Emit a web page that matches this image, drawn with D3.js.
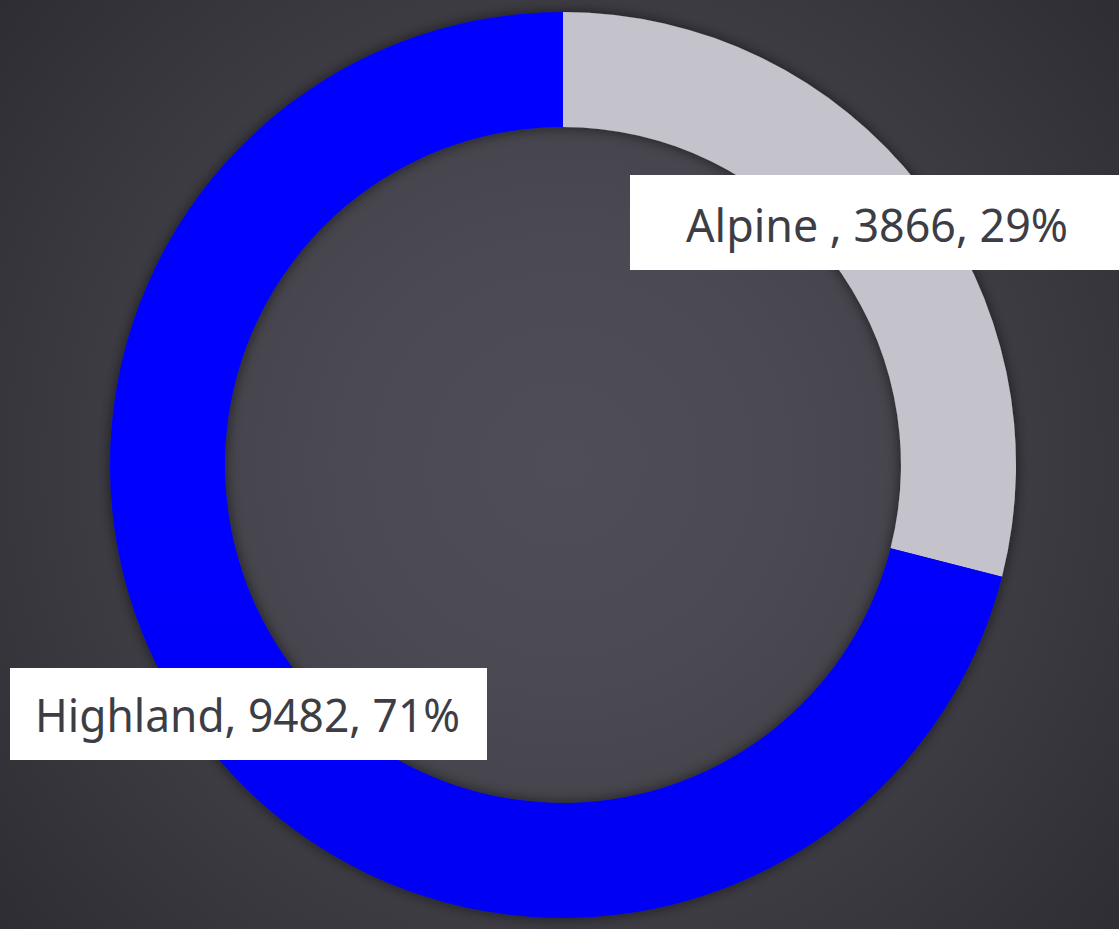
<!DOCTYPE html>
<html><head><meta charset="utf-8">
<script src="https://cdn.jsdelivr.net/npm/d3@7"></script>
<style>html,body{margin:0;padding:0;overflow:hidden;background:#2e2d34}</style>
</head><body>
<script>
const categories = ["Alpine ", "Highland"];
const values = [3866, 9482];
const percents = ["29%", "71%"];

const W = 1119, H = 929;
const cx = 563, cy = 465, rOuter = 453, rInner = 338;

const svg = d3.select("body").append("svg").attr("width", W).attr("height", H);
const defs = svg.append("defs");
const bg = defs.append("radialGradient").attr("id","bg").attr("gradientUnits","userSpaceOnUse")
  .attr("cx",cx).attr("cy",cy).attr("r",730);
[[0,"#4f4e57"],[0.3,"#4b4a53"],[0.47,"#46454d"],[0.65,"#3c3b42"],[1,"#2e2d34"]].forEach(s=>
  bg.append("stop").attr("offset",s[0]).attr("stop-color",s[1]));
const blueG = defs.append("linearGradient").attr("id","blueG")
  .attr("gradientUnits","userSpaceOnUse").attr("x1",0).attr("y1",cy-rOuter).attr("x2",0).attr("y2",cy+rOuter);
blueG.append("stop").attr("offset","0%").attr("stop-color","#0000ff");
blueG.append("stop").attr("offset","55%").attr("stop-color","#0000f0");
blueG.append("stop").attr("offset","100%").attr("stop-color","#0000d0");
const f = defs.append("filter").attr("id","sh").attr("x","-20%").attr("y","-20%").attr("width","140%").attr("height","140%");
f.append("feDropShadow").attr("dx",0).attr("dy",0).attr("stdDeviation",7).attr("flood-color","#000").attr("flood-opacity",0.6);

svg.append("rect").attr("width",W).attr("height",H).attr("fill","url(#bg)");

const colors = ["#c4c3cc", "url(#blueG)"];
const pie = d3.pie().sort(null).value(d => d);
const arc = d3.arc().innerRadius(rInner).outerRadius(rOuter);
const arcs = pie(values);
const g = svg.append("g").attr("transform", `translate(${cx},${cy})`).attr("filter","url(#sh)");
g.selectAll("path").data(arcs).join("path").attr("d", arc).attr("fill", (d,i)=>colors[i]);

// labels
const labels = [
  {box:[630,175,489,95], tx:686, ty:242, w:382},
  {box:[10,668,477,92], tx:35, ty:732, w:425}
];
const fmt = d3.format("d");
labels.forEach((L,i)=>{
  svg.append("rect").attr("x",L.box[0]).attr("y",L.box[1]).attr("width",L.box[2]).attr("height",L.box[3]).attr("fill","#ffffff");
  svg.append("text").attr("x",L.tx).attr("y",L.ty)
    .attr("font-family","'Noto Sans', 'Open Sans', sans-serif").attr("font-size",45)
    .attr("fill","#3d3d45")
    .attr("textLength", L.w).attr("lengthAdjust","spacingAndGlyphs")
    .text(`${categories[i]}, ${fmt(values[i])}, ${percents[i]}`);
});
</script>
</body></html>
